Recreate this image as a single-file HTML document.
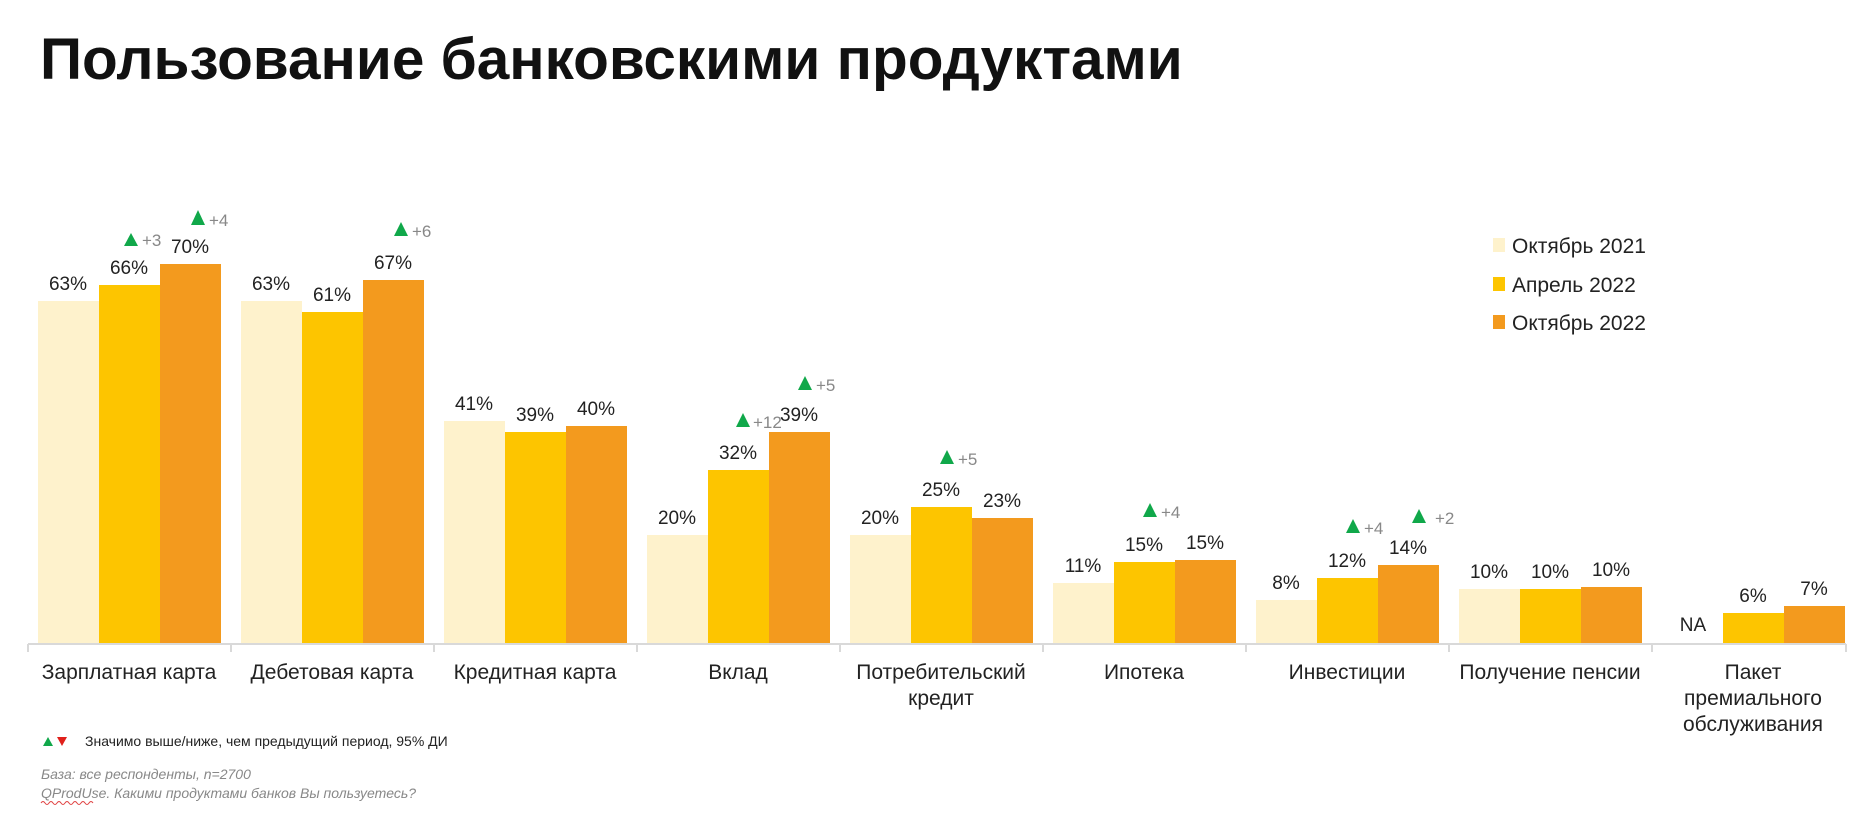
<!DOCTYPE html>
<html><head><meta charset="utf-8"><style>
html,body{margin:0;padding:0;background:#fff;}
svg{display:block;}
text{font-family:"Liberation Sans","Noto Sans CJK SC",sans-serif;}
</style></head><body>
<svg width="1874" height="826" viewBox="0 0 1874 826" xmlns="http://www.w3.org/2000/svg">
<text x="40" y="79" font-size="58.5" font-weight="bold" fill="#111">Пользование банковскими продуктами</text>

<line x1="28" y1="644" x2="1846" y2="644" stroke="#d9d9d9" stroke-width="2"/>
<g stroke="#d9d9d9" stroke-width="2">
<line x1="28" y1="644" x2="28" y2="652"/><line x1="231" y1="644" x2="231" y2="652"/><line x1="434" y1="644" x2="434" y2="652"/><line x1="637" y1="644" x2="637" y2="652"/><line x1="840" y1="644" x2="840" y2="652"/><line x1="1043" y1="644" x2="1043" y2="652"/><line x1="1246" y1="644" x2="1246" y2="652"/><line x1="1449" y1="644" x2="1449" y2="652"/><line x1="1652" y1="644" x2="1652" y2="652"/><line x1="1846" y1="644" x2="1846" y2="652"/>
</g>

<g>
<rect x="38" y="301" width="61" height="342" fill="#FEF2CC"/><rect x="99" y="285" width="61" height="358" fill="#FDC500"/><rect x="160" y="264" width="61" height="379" fill="#F39A1E"/>
<rect x="241" y="301" width="61" height="342" fill="#FEF2CC"/><rect x="302" y="312" width="61" height="331" fill="#FDC500"/><rect x="363" y="280" width="61" height="363" fill="#F39A1E"/>
<rect x="444" y="421" width="61" height="222" fill="#FEF2CC"/><rect x="505" y="432" width="61" height="211" fill="#FDC500"/><rect x="566" y="426" width="61" height="217" fill="#F39A1E"/>
<rect x="647" y="535" width="61" height="108" fill="#FEF2CC"/><rect x="708" y="470" width="61" height="173" fill="#FDC500"/><rect x="769" y="432" width="61" height="211" fill="#F39A1E"/>
<rect x="850" y="535" width="61" height="108" fill="#FEF2CC"/><rect x="911" y="507" width="61" height="136" fill="#FDC500"/><rect x="972" y="518" width="61" height="125" fill="#F39A1E"/>
<rect x="1053" y="583" width="61" height="60" fill="#FEF2CC"/><rect x="1114" y="562" width="61" height="81" fill="#FDC500"/><rect x="1175" y="560" width="61" height="83" fill="#F39A1E"/>
<rect x="1256" y="600" width="61" height="43" fill="#FEF2CC"/><rect x="1317" y="578" width="61" height="65" fill="#FDC500"/><rect x="1378" y="565" width="61" height="78" fill="#F39A1E"/>
<rect x="1459" y="589" width="61" height="54" fill="#FEF2CC"/><rect x="1520" y="589" width="61" height="54" fill="#FDC500"/><rect x="1581" y="587" width="61" height="56" fill="#F39A1E"/>
<rect x="1723" y="613" width="61" height="30" fill="#FDC500"/><rect x="1784" y="606" width="61" height="37" fill="#F39A1E"/>
</g>

<g font-size="19" fill="#222" text-anchor="middle">
<text x="68" y="290">63%</text><text x="129" y="274">66%</text><text x="190" y="253">70%</text>
<text x="271" y="290">63%</text><text x="332" y="301">61%</text><text x="393" y="269">67%</text>
<text x="474" y="410">41%</text><text x="535" y="421">39%</text><text x="596" y="415">40%</text>
<text x="677" y="524">20%</text><text x="738" y="459">32%</text><text x="799" y="421">39%</text>
<text x="880" y="524">20%</text><text x="941" y="496">25%</text><text x="1002" y="507">23%</text>
<text x="1083" y="572">11%</text><text x="1144" y="551">15%</text><text x="1205" y="549">15%</text>
<text x="1286" y="589">8%</text><text x="1347" y="567">12%</text><text x="1408" y="554">14%</text>
<text x="1489" y="578">10%</text><text x="1550" y="578">10%</text><text x="1611" y="576">10%</text>
<text x="1693" y="631">NA</text><text x="1753" y="602">6%</text><text x="1814" y="595">7%</text>
</g>

<g font-size="17" fill="#888">
<polygon points="124,246 138,246 131,233" fill="#10A84A"/><text x="142" y="246">+3</text>
<polygon points="191,225 205,225 198,210" fill="#10A84A"/><text x="209" y="226">+4</text>
<polygon points="394,236 408,236 401,222" fill="#10A84A"/><text x="412" y="237">+6</text>
<polygon points="736,427 750,427 743,413" fill="#10A84A"/><text x="753" y="428">+12</text>
<polygon points="798,390 812,390 805,376" fill="#10A84A"/><text x="816" y="391">+5</text>
<polygon points="940,464 954,464 947,450" fill="#10A84A"/><text x="958" y="465">+5</text>
<polygon points="1143,517 1157,517 1150,503" fill="#10A84A"/><text x="1161" y="518">+4</text>
<polygon points="1346,533 1360,533 1353,519" fill="#10A84A"/><text x="1364" y="534">+4</text>
<polygon points="1412,523 1426,523 1419,509" fill="#10A84A"/><text x="1435" y="524">+2</text>
</g>

<g font-size="21" fill="#222" text-anchor="middle">
<text x="129" y="679">Зарплатная карта</text>
<text x="332" y="679">Дебетовая карта</text>
<text x="535" y="679">Кредитная карта</text>
<text x="738" y="679">Вклад</text>
<text x="941" y="679">Потребительский</text><text x="941" y="705">кредит</text>
<text x="1144" y="679">Ипотека</text>
<text x="1347" y="679">Инвестиции</text>
<text x="1550" y="679">Получение пенсии</text>
<text x="1753" y="679">Пакет</text><text x="1753" y="705">премиального</text><text x="1753" y="731">обслуживания</text>
</g>

<g font-size="21" fill="#222">
<rect x="1493" y="238" width="12" height="14" fill="#FEF2CC"/><text x="1512" y="253">Октябрь 2021</text>
<rect x="1493" y="277" width="12" height="14" fill="#FDC500"/><text x="1512" y="292">Апрель 2022</text>
<rect x="1493" y="315" width="12" height="14" fill="#F39A1E"/><text x="1512" y="330">Октябрь 2022</text>
</g>

<polygon points="43,746 53,746 48,737" fill="#10A84A"/>
<polygon points="57,737 67,737 62,746" fill="#E0201B"/>
<text x="85" y="746" font-size="14" fill="#222">Значимо выше/ниже, чем предыдущий период, 95% ДИ</text>
<text x="41" y="779" font-size="14" font-style="italic" fill="#888">База: все респонденты, n=2700</text>
<text x="41" y="798" font-size="14" font-style="italic" fill="#888">QProdUse. Какими продуктами банков Вы пользуетесь?</text>
<path d="M41,803 q2,-3 4,0 t4,0 t4,0 t4,0 t4,0 t4,0 t4,0 t4,0 t4,0 t4,0 t4,0 t4,0 t4,0" stroke="#e04040" stroke-width="1" fill="none"/>
</svg>
</body></html>
